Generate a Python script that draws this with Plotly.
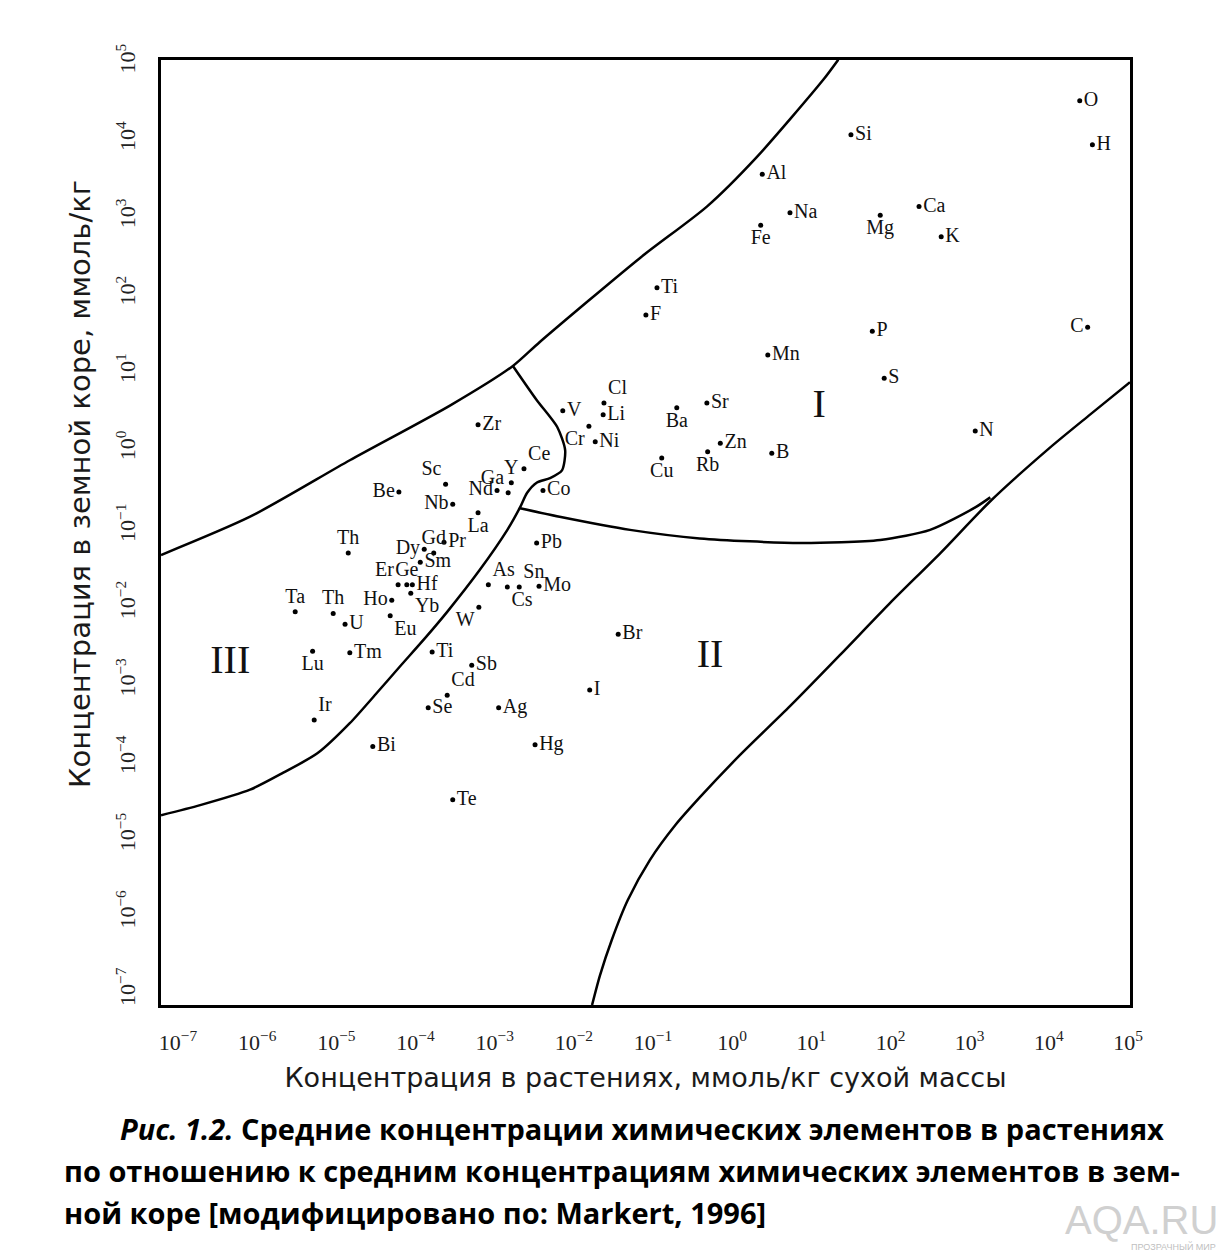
import plotly.graph_objects as go

# ---- data (log10 of concentration, mmol/kg) ----
elements = ["O", "H", "Si", "Al", "Na", "Fe", "Mg", "Ca", "K", "Ti", "F", "P", "C", "Mn", "S", "N",
            "Cl", "Li", "V", "Cr", "Ni", "Ba", "Sr", "Zn", "Rb", "B", "Cu", "Co",
            "Zr", "Ce", "Y", "Ga", "Nd", "Sc", "Nb", "Be", "La", "Pr", "Gd", "Dy", "Sm", "Th",
            "Er", "Ge", "Hf", "Yb", "Ho", "Eu", "Ta", "Th", "U", "Lu", "Tm", "Ir", "Bi",
            "Ti", "Sb", "Cd", "Se", "Ag", "Hg", "Te", "I", "W", "Mo", "Br", "As", "Cs", "Sn", "Pb"]
log_plants = [4.39, 4.55, 1.50, 0.38, 0.73, 0.36, 1.87, 2.36, 2.64, -0.95, -1.09, 1.77, 4.49, 0.45, 1.92, 3.07,
              -1.62, -1.63, -2.14, -1.81, -1.73, -0.70, -0.32, -0.15, -0.31, 0.50, -0.89, -2.39,
              -3.21, -2.63, -2.79, -2.83, -2.97, -3.62, -3.53, -4.21, -3.21, -3.64, -3.77, -3.89, -3.94, -4.85,
              -4.22, -4.11, -4.04, -4.06, -4.30, -4.32, -5.52, -5.04, -4.89, -5.30, -4.83, -5.28, -4.54,
              -3.79, -3.29, -3.60, -3.84, -2.95, -2.49, -3.53, -1.80, -3.20, -2.44, -1.44, -3.08, -2.84, -2.69, -2.47]
log_crust = [4.50, 3.93, 4.06, 3.55, 3.05, 2.89, 3.02, 3.13, 2.74, 2.08, 1.73, 1.52, 1.57, 1.21, 0.91, 0.23,
             0.59, 0.44, 0.49, 0.29, 0.09, 0.53, 0.59, 0.07, -0.04, -0.06, -0.12, -0.54,
             0.31, -0.26, -0.44, -0.57, -0.54, -0.46, -0.72, -0.56, -0.83, -1.21, -1.35, -1.30, -1.47, -1.35,
             -1.76, -1.76, -1.76, -1.87, -1.96, -2.16, -2.11, -2.13, -2.27, -2.62, -2.64, -3.51, -3.85,
             -2.63, -2.80, -3.19, -3.35, -3.35, -3.83, -4.54, -3.12, -2.05, -1.78, -2.40, -1.76, -1.79, -1.79, -1.22]
label_pos = ["middle right", "middle right", "middle right", "middle right", "middle right", "bottom center",
             "bottom center", "middle right", "middle right", "middle right", "middle right", "middle right",
             "middle left", "middle right", "middle right", "middle right",
             "top right", "middle right", "middle right", "bottom left", "middle right", "bottom center",
             "middle right", "middle right", "bottom center", "middle right", "bottom center", "middle right",
             "middle right", "top right", "top center", "top left", "middle left", "top left", "middle left",
             "middle left", "bottom center", "middle right", "top center", "middle left", "middle right",
             "top center", "top left", "top center", "middle right", "bottom right", "middle left",
             "bottom right", "top center", "top center", "middle right", "bottom center", "middle right",
             "top right", "middle right", "middle right", "middle right", "top right", "middle right",
             "middle right", "middle right", "middle right", "middle right", "bottom left", "middle right",
             "middle right", "top right", "bottom right", "top right", "middle right"]

# boundary curves (log10 plants, log10 crust)
upper_x = [-7.215, -6.09, -4.83, -3.56, -2.77, -2.43, -1.16, -0.32, 0.31, 1.15, 1.34]
upper_y = [-1.375, -0.88, -0.15, 0.56, 1.07, 1.38, 2.47, 3.13, 3.77, 4.77, 5.03]
sep_x = [-2.77, -2.47, -2.21, -2.11, -2.15, -2.30, -2.47, -2.59, -2.68, -2.84, -3.19, -3.60, -3.88,
         -4.20, -4.49, -4.83, -5.24, -5.67, -6.09, -6.72, -7.215]
sep_y = [1.07, 0.63, 0.28, -0.02, -0.28, -0.38, -0.44, -0.57, -0.76, -1.05, -1.57, -2.11, -2.45,
         -2.82, -3.16, -3.55, -3.94, -4.19, -4.41, -4.61, -4.74]
mid_x = [-2.68, -2.18, -1.29, -0.41, 0.86, 1.87, 2.50, 3.07, 3.26]
mid_y = [-0.77, -0.88, -1.05, -1.16, -1.22, -1.18, -1.05, -0.76, -0.63]
lower_x = [-1.77, -1.67, -1.52, -1.32, -1.04, -0.72, -0.41, 0.10, 0.73, 1.36, 1.99, 2.63, 3.26, 4.01,
           4.52, 5.025]
lower_y = [-7.194, -6.81, -6.35, -5.84, -5.32, -4.87, -4.51, -3.96, -3.33, -2.67, -2.00, -1.35, -0.68,
           0.01, 0.44, 0.86]

region_names = ["I", "II", "III"]
region_x = [1.10, -0.28, -6.34]
region_y = [0.54, -2.69, -2.77]

tick_exp = list(range(-7, 6))

x_title = "Концентрация в растениях, ммоль/кг сухой массы"
y_title = "Концентрация в земной коре, ммоль/кг"
caption = ["<i>Рис. 1.2.</i> Средние концентрации химических элементов в растениях",
           "по отношению к средним концентрациям химических элементов в зем-",
           "ной коре [модифицировано по: Markert, 1996]"]

SERIF = "Liberation Serif"
fig = go.Figure()

line_style = dict(color="black", width=2.5, shape="spline", smoothing=0.7)
for cx, cy in [(upper_x, upper_y), (sep_x, sep_y), (mid_x, mid_y), (lower_x, lower_y)]:
    fig.add_trace(go.Scatter(x=[10 ** v for v in cx], y=[10 ** v for v in cy], mode="lines",
                             line=line_style, hoverinfo="skip", showlegend=False))

fig.add_trace(go.Scatter(
    x=[10 ** v for v in log_plants], y=[10 ** v for v in log_crust],
    mode="markers+text", text=elements, textposition=label_pos,
    marker=dict(color="black", size=5),
    textfont=dict(family=SERIF, size=20, color="#111"),
    showlegend=False, cliponaxis=False))

fig.add_trace(go.Scatter(
    x=[10 ** v for v in region_x], y=[10 ** v for v in region_y], mode="text",
    text=region_names, textfont=dict(family=SERIF, size=40, color="#111"),
    showlegend=False))

tick_vals = [10 ** e for e in tick_exp]
tick_text = ["10<sup>%s</sup>" % (str(e).replace("-", "−")) for e in tick_exp]

axis_common = dict(type="log", showgrid=False, zeroline=False, showline=True, linecolor="black",
                   linewidth=2.5, mirror=True, ticks="outside", tickcolor="rgba(0,0,0,0)",
                   tickvals=tick_vals, ticktext=tick_text,
                   tickfont=dict(family=SERIF, size=22, color="#222"))
fig.update_xaxes(range=[-7.215, 5.025], ticklen=16,
                 title=dict(text=x_title, standoff=14,
                            font=dict(family="DejaVu Sans", size=27, color="#1a1a1a")), **axis_common)
fig.update_yaxes(range=[-7.194, 5.026], tickangle=-90, ticklen=14, **axis_common)

# y-axis title placed like the reference (slightly above the plot centre)
fig.add_annotation(text=y_title, xref="paper", yref="paper", x=(80 - 161) / 969,
                   y=(1005 - 484) / 945, xanchor="center", yanchor="middle", textangle=-90,
                   showarrow=False, font=dict(family="DejaVu Sans", size=29, color="#1a1a1a"))

for i, line in enumerate(caption):
    fig.add_annotation(text="<b>" + line + "</b>", xref="paper", yref="paper",
                       x=(118 - 161) / 969 if i == 0 else (62 - 161) / 969,
                       y=(1005 - (1128 + 42 * i)) / 945, xanchor="left", yanchor="middle",
                       showarrow=False, font=dict(family="Open Sans", size=29, color="black"))

fig.add_annotation(text="AQA.RU", xref="paper", yref="paper", x=(1220 - 161) / 969,
                   y=(1005 - 1220) / 945, xanchor="right", yanchor="middle", showarrow=False,
                   font=dict(family="Liberation Sans", size=40, color="#d0d0d0"))
fig.add_annotation(text="ПРОЗРАЧНЫЙ МИР", xref="paper", yref="paper", x=(1218 - 161) / 969,
                   y=(1005 - 1246) / 945, xanchor="right", yanchor="middle", showarrow=False,
                   font=dict(family="Liberation Sans", size=9, color="#c0c0c0"))

fig.update_layout(width=1230, height=1256, margin=dict(l=161, r=100, t=60, b=251),
                  plot_bgcolor="white", paper_bgcolor="white", showlegend=False)

fig.write_html("out.html", config={"displayModeBar": False},
               post_script="document.body.style.margin='0px';")
